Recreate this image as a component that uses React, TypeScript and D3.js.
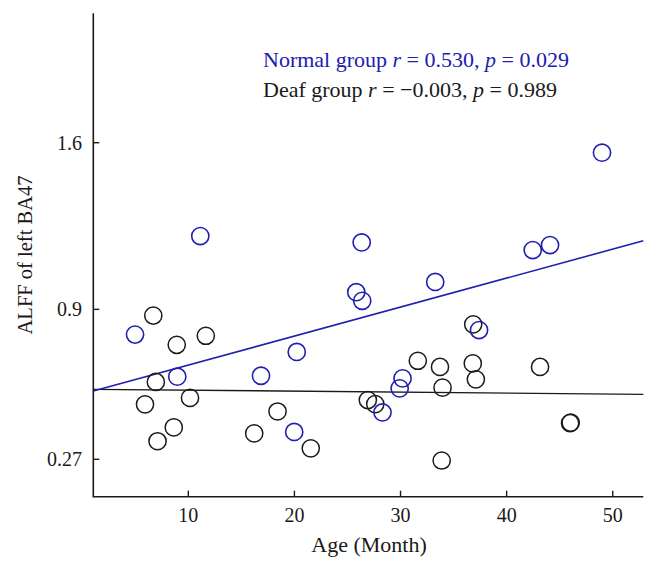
import React from 'react';
import * as d3 from 'd3';

// Normal group (blue)
const normalAge = [4.98, 8.96, 11.13, 16.85, 20.22, 19.98, 25.83, 26.39, 26.34, 28.3, 30.19, 29.92, 33.27, 37.4, 42.46, 44.09, 48.99];
const normalAlff = [0.794, 0.617, 1.208, 0.621, 0.721, 0.385, 0.972, 0.936, 1.181, 0.467, 0.61, 0.568, 1.015, 0.813, 1.149, 1.17, 1.558];

// Deaf group (black)
const deafAge = [6.7, 8.91, 11.65, 6.94, 10.16, 5.92, 8.63, 7.1, 18.41, 16.21, 21.54, 26.92, 27.62, 31.63, 33.72, 33.96, 36.81, 37.1, 36.85, 33.88, 43.15, 45.98, 46.04];
const deafAlff = [0.874, 0.751, 0.789, 0.595, 0.528, 0.501, 0.404, 0.346, 0.471, 0.379, 0.316, 0.519, 0.502, 0.684, 0.658, 0.571, 0.673, 0.606, 0.837, 0.265, 0.658, 0.422, 0.424];

// fitted lines [normal, deaf]
const fitIntercept = [0.544, 0.5644];
const fitSlope = [0.01218, -0.000405];

const xTicks = [10, 20, 30, 40, 50];
const yTicks = [0.27, 0.9, 1.6];
const yTickLabels = ['0.27', '0.9', '1.6'];

const W = 658;
const H = 573;
const m = { left: 93.3, right: 643.3, top: 13.3, bottom: 496.7 };

const BLUE = '#2020b0';
const INK = '#1a1a1a';
const FONT = '"Liberation Serif", "DejaVu Serif", serif';

export default function App() {
  const x = d3.scaleLinear().domain([1.046, 52.88]).range([m.left, m.right]);
  const y = d3.scaleLinear().domain([0.113, 2.1436]).range([m.bottom, m.top]);

  // straight fit line across the whole x range
  const fitPath = (k: number) => {
    const pts: [number, number][] = x.domain().map((v) => [x(v), y(fitIntercept[k] + fitSlope[k] * v)]);
    return d3.line()(pts) || '';
  };

  const normal = normalAge.map((a, i) => ({ a, v: normalAlff[i] }));
  const deaf = deafAge.map((a, i) => ({ a, v: deafAlff[i] }));

  return (
    <svg
      width={W}
      height={H}
      style={{ position: 'absolute', left: 0, top: 0, background: '#fff' }}
      fontFamily={FONT}
    >
      <path d={fitPath(1)} stroke={INK} strokeWidth={1.4} fill="none" />
      <path d={fitPath(0)} stroke={BLUE} strokeWidth={1.6} fill="none" />

      {deaf.map((d, i) => (
        <circle key={'d' + i} cx={x(d.a)} cy={y(d.v)} r={8.6} fill="none" stroke={INK} strokeWidth={1.5} />
      ))}
      {normal.map((d, i) => (
        <circle key={'n' + i} cx={x(d.a)} cy={y(d.v)} r={8.6} fill="none" stroke={BLUE} strokeWidth={1.6} />
      ))}

      {/* axes */}
      <path d={`M${m.left},${m.top}V${m.bottom}H${m.right}`} stroke={INK} strokeWidth={1.6} fill="none" />
      {xTicks.map((t) => (
        <g key={'xt' + t}>
          <line x1={x(t)} x2={x(t)} y1={m.bottom} y2={m.bottom - 6} stroke={INK} strokeWidth={1.4} />
          <text x={x(t)} y={522} textAnchor="middle" fontSize={20} fill={INK}>
            {t}
          </text>
        </g>
      ))}
      {yTicks.map((t, i) => (
        <g key={'yt' + t}>
          <line x1={m.left} x2={m.left + 6} y1={y(t)} y2={y(t)} stroke={INK} strokeWidth={1.4} />
          <text x={82} y={y(t)} dy="0.35em" textAnchor="end" fontSize={20} fill={INK}>
            {yTickLabels[i]}
          </text>
        </g>
      ))}

      <text x={369} y={552} textAnchor="middle" fontSize={22} fill={INK}>
        Age (Month)
      </text>
      <text
        transform={`translate(32,${(m.top + m.bottom) / 2}) rotate(-90)`}
        textAnchor="middle"
        fontSize={20.5}
        fill={INK}
      >
        ALFF of left BA47
      </text>

      <text x={263} y={67} fontSize={22} fill={BLUE}>
        Normal group <tspan fontStyle="italic">r</tspan> = 0.530, <tspan fontStyle="italic">p</tspan> = 0.029
      </text>
      <text x={263} y={97} fontSize={22} fill={INK}>
        Deaf group <tspan fontStyle="italic">r</tspan> = −0.003, <tspan fontStyle="italic">p</tspan> = 0.989
      </text>
    </svg>
  );
}
